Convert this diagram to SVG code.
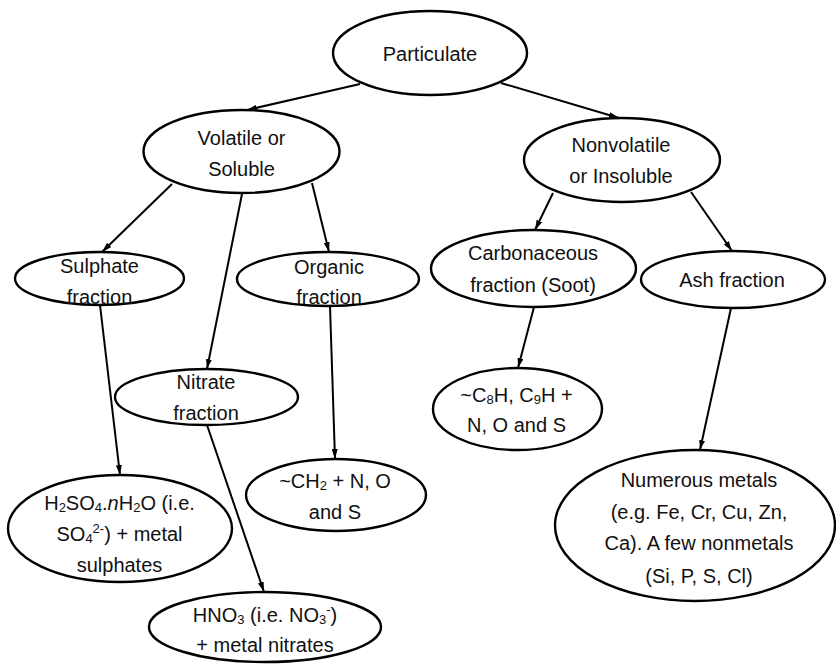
<svg xmlns="http://www.w3.org/2000/svg" width="836" height="664" viewBox="0 0 836 664">
<defs>
<marker id="arr" viewBox="0 0 10 6" refX="10" refY="3" markerWidth="10" markerHeight="6" markerUnits="userSpaceOnUse" orient="auto">
<path d="M0,0 L10,3 L0,6 z" fill="#000"/>
</marker>
<style>
.node ellipse{fill:#fff;stroke:#000;stroke-width:2.4}
.node text{font-family:"Liberation Sans",Arial,sans-serif;font-size:20px;fill:#111;text-anchor:middle}
.sub{font-size:13px}
.edges line{stroke:#000;stroke-width:2;marker-end:url(#arr)}
</style>
</defs>
<rect width="836" height="664" fill="#fff"/>
<g class="edges">
<line x1="360" y1="84" x2="247" y2="110"/>
<line x1="501" y1="83" x2="619" y2="118"/>
<line x1="172" y1="184" x2="102" y2="252"/>
<line x1="242" y1="194" x2="207" y2="369"/>
<line x1="312" y1="183" x2="329" y2="252"/>
<line x1="100" y1="305" x2="120" y2="475"/>
<line x1="330" y1="306" x2="335" y2="459"/>
<line x1="207" y1="425" x2="264" y2="592"/>
<line x1="553" y1="193" x2="535" y2="230"/>
<line x1="691" y1="192" x2="732" y2="251"/>
<line x1="534" y1="307" x2="518" y2="368"/>
<line x1="731" y1="308" x2="700" y2="450"/>
</g>
<g id="particulate" class="node">
<ellipse cx="430" cy="53" rx="97" ry="42"/>
<text x="430" y="61">Particulate</text>
</g>
<g id="volatile" class="node">
<ellipse cx="241.5" cy="151.5" rx="98" ry="41.5"/>
<text x="241.5" y="145">Volatile or</text>
<text x="241.5" y="176">Soluble</text>
</g>
<g id="nonvolatile" class="node">
<ellipse cx="622" cy="160" rx="98" ry="42"/>
<text x="621" y="152">Nonvolatile</text>
<text x="621" y="183">or Insoluble</text>
</g>
<g id="sulphate" class="node">
<ellipse cx="99.5" cy="278.5" rx="84.5" ry="26.5"/>
<text x="99.5" y="273">Sulphate</text>
<text x="99.5" y="304">fraction</text>
</g>
<g id="organic" class="node">
<ellipse cx="328" cy="279" rx="91" ry="27"/>
<text x="329" y="274">Organic</text>
<text x="329" y="304">fraction</text>
</g>
<g id="carbonaceous" class="node">
<ellipse cx="533.5" cy="268.5" rx="102.5" ry="38.5"/>
<text x="533" y="260">Carbonaceous</text>
<text x="533" y="292">fraction (Soot)</text>
</g>
<g id="ash" class="node">
<ellipse cx="733" cy="279.5" rx="92" ry="28.5"/>
<text x="732" y="287">Ash fraction</text>
</g>
<g id="nitrate" class="node">
<ellipse cx="206.5" cy="397" rx="91.5" ry="28"/>
<text x="206" y="389">Nitrate</text>
<text x="206" y="420">fraction</text>
</g>
<g id="sulphate-comp" class="node">
<ellipse cx="120" cy="528.5" rx="112" ry="53.5"/>
<text x="119.5" y="510">H<tspan class="sub" dy="2">2</tspan><tspan dy="-2">SO</tspan><tspan class="sub" dy="2">4</tspan><tspan dy="-2">.</tspan><tspan font-style="italic">n</tspan>H<tspan class="sub" dy="2">2</tspan><tspan dy="-2">O (i.e.</tspan></text>
<text x="119.5" y="541">SO<tspan class="sub" dy="2">4</tspan><tspan class="sub" dy="-10">2-</tspan><tspan dy="8">) + metal</tspan></text>
<text x="119.5" y="572">sulphates</text>
</g>
<g id="organic-comp" class="node">
<ellipse cx="336" cy="495" rx="90" ry="36"/>
<text x="335" y="488">~CH<tspan class="sub" dy="2">2</tspan><tspan dy="-2"> + N, O</tspan></text>
<text x="335" y="519">and S</text>
</g>
<g id="nitrate-comp" class="node">
<ellipse cx="265" cy="627" rx="116" ry="35"/>
<text x="265" y="622">HNO<tspan class="sub" dy="2">3</tspan><tspan dy="-2"> (i.e. NO</tspan><tspan class="sub" dy="2">3</tspan><tspan class="sub" dy="-10">-</tspan><tspan dy="8">)</tspan></text>
<text x="265" y="652">+ metal nitrates</text>
</g>
<g id="soot-comp" class="node">
<ellipse cx="517.5" cy="409" rx="84.5" ry="41"/>
<text x="516.5" y="402">~C<tspan class="sub" dy="2">8</tspan><tspan dy="-2">H, C</tspan><tspan class="sub" dy="2">9</tspan><tspan dy="-2">H +</tspan></text>
<text x="516.5" y="432">N, O and S</text>
</g>
<g id="ash-comp" class="node">
<ellipse cx="695" cy="525.5" rx="140" ry="75.5"/>
<text x="699" y="487">Numerous metals</text>
<text x="699" y="519">(e.g. Fe, Cr, Cu, Zn,</text>
<text x="699" y="550">Ca). A few nonmetals</text>
<text x="699" y="583">(Si, P, S, Cl)</text>
</g>
</svg>
